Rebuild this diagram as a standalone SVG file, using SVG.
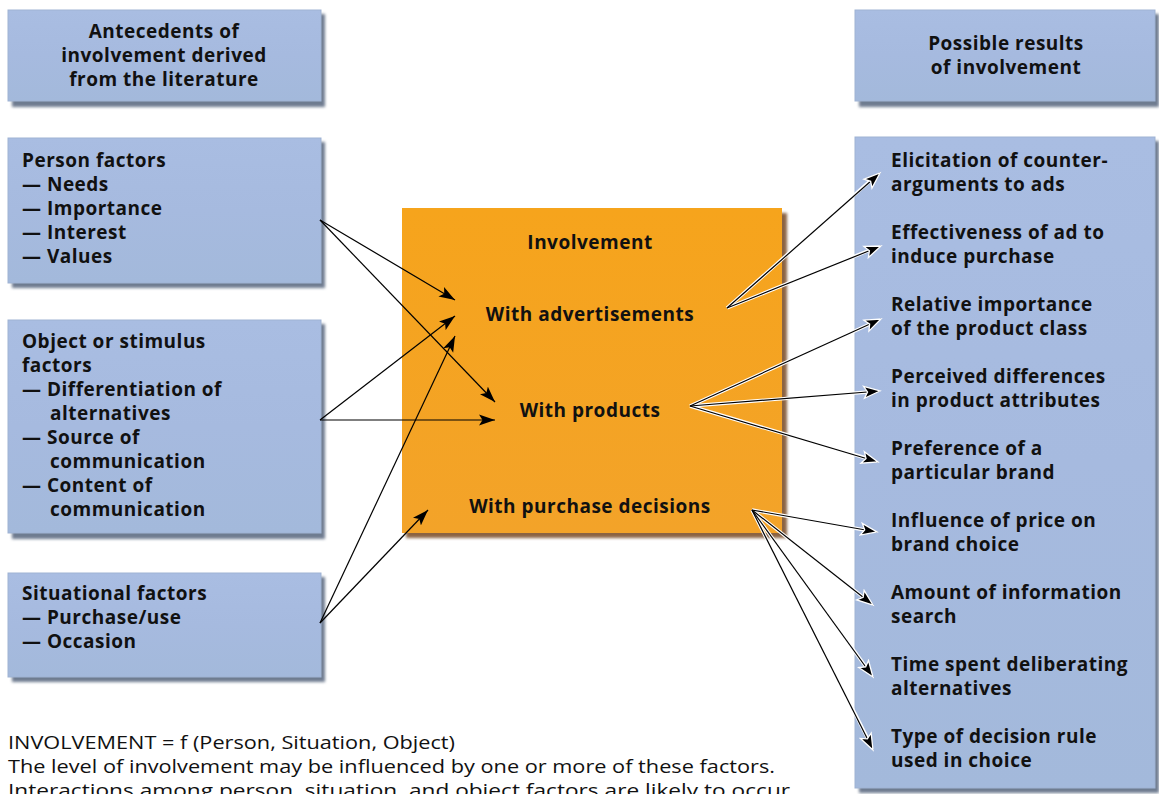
<svg xmlns="http://www.w3.org/2000/svg" width="1159" height="794" viewBox="0 0 1159 794">
<defs>
<linearGradient id="blue" x1="0" y1="0" x2="0" y2="1">
<stop offset="0" stop-color="#a9bde2"/>
<stop offset="0.5" stop-color="#a6badf"/>
<stop offset="1" stop-color="#a3b9db"/>
</linearGradient>
<linearGradient id="orange" x1="0" y1="0" x2="0" y2="1">
<stop offset="0" stop-color="#f6a41c"/>
<stop offset="1" stop-color="#f3a329"/>
</linearGradient>
<filter id="sh" x="-10%" y="-10%" width="120%" height="120%">
<feGaussianBlur stdDeviation="1.6"/>
</filter>
<marker id="ah" viewBox="0 0 16 12" refX="16" refY="6" markerWidth="16" markerHeight="12" markerUnits="userSpaceOnUse" orient="auto">
<path d="M0,0.5 L16,6 L0,11.5 L3.5,6 z" fill="#000"/>
</marker>
<marker id="ahw" viewBox="0 0 20 16" refX="17.5" refY="8" markerWidth="20" markerHeight="16" markerUnits="userSpaceOnUse" orient="auto">
<path d="M1.5,2 L17.5,8 L1.5,14 L5,8 z" fill="#000" stroke="#fff" stroke-width="1.3" stroke-linejoin="miter"/>
</marker>
</defs>
<style>
.box{fill:url(#blue);stroke:#9fb3d3;stroke-width:1}
.shadow{fill:#6e7b90;filter:url(#sh)}
.oshadow{fill:#8b6343;filter:url(#sh)}
.t{font-family:"Open Sans","DejaVu Sans",sans-serif;font-weight:bold;font-size:19px;letter-spacing:0.5px;fill:#111}
.c{text-anchor:middle}
.f{font-family:"Open Sans","DejaVu Sans",sans-serif;font-size:18px;fill:#111}
.ln{stroke:#000;stroke-width:1.2;fill:none}
.halo{stroke:#fff;stroke-width:3.4;fill:none}
</style>
<rect width="1159" height="794" fill="#ffffff"/>

<g id="antecedents-header">
<rect class="shadow" x="12" y="14" width="313" height="93"/>
<rect class="box" x="8" y="10" width="313" height="91"/>
<text class="t c" x="164" y="38">Antecedents of</text>
<text class="t c" x="164" y="62">involvement derived</text>
<text class="t c" x="164" y="86">from the literature</text>
</g>

<g id="person-factors">
<rect class="shadow" x="12" y="142" width="313" height="146"/>
<rect class="box" x="8" y="138" width="313" height="145"/>
<text class="t" x="22" y="167">Person factors</text>
<text class="t" x="22" y="191">— Needs</text>
<text class="t" x="22" y="215">— Importance</text>
<text class="t" x="22" y="239">— Interest</text>
<text class="t" x="22" y="263">— Values</text>
</g>

<g id="object-factors">
<rect class="shadow" x="12" y="324" width="313" height="215"/>
<rect class="box" x="8" y="320" width="313" height="213"/>
<text class="t" x="22" y="348">Object or stimulus</text>
<text class="t" x="22" y="372">factors</text>
<text class="t" x="22" y="396">— Differentiation of</text>
<text class="t" x="50" y="420">alternatives</text>
<text class="t" x="22" y="444">— Source of</text>
<text class="t" x="50" y="468">communication</text>
<text class="t" x="22" y="492">— Content of</text>
<text class="t" x="50" y="516">communication</text>
</g>

<g id="situational-factors">
<rect class="shadow" x="12" y="577" width="313" height="105"/>
<rect class="box" x="8" y="573" width="313" height="104"/>
<text class="t" x="22" y="600">Situational factors</text>
<text class="t" x="22" y="624">— Purchase/use</text>
<text class="t" x="22" y="648">— Occasion</text>
</g>

<g id="involvement">
<rect class="oshadow" x="406" y="213" width="381" height="325"/>
<rect x="402" y="208" width="380" height="325" fill="url(#orange)"/>
<text class="t c" x="590" y="249">Involvement</text>
<text class="t c" x="590" y="321">With advertisements</text>
<text class="t c" x="590" y="417">With products</text>
<text class="t c" x="590" y="513">With purchase decisions</text>
</g>

<g id="results-header">
<rect class="shadow" x="859" y="14" width="300" height="93"/>
<rect class="box" x="855" y="10" width="300" height="91"/>
<text class="t c" x="1006" y="50">Possible results</text>
<text class="t c" x="1006" y="74">of involvement</text>
</g>

<g id="results">
<rect class="shadow" x="859" y="141" width="300" height="652"/>
<rect class="box" x="855" y="137" width="300" height="651"/>
<text class="t" x="891" y="167">Elicitation of counter-</text>
<text class="t" x="891" y="191">arguments to ads</text>
<text class="t" x="891" y="239">Effectiveness of ad to</text>
<text class="t" x="891" y="263">induce purchase</text>
<text class="t" x="891" y="311">Relative importance</text>
<text class="t" x="891" y="335">of the product class</text>
<text class="t" x="891" y="383">Perceived differences</text>
<text class="t" x="891" y="407">in product attributes</text>
<text class="t" x="891" y="455">Preference of a</text>
<text class="t" x="891" y="479">particular brand</text>
<text class="t" x="891" y="527">Influence of price on</text>
<text class="t" x="891" y="551">brand choice</text>
<text class="t" x="891" y="599">Amount of information</text>
<text class="t" x="891" y="623">search</text>
<text class="t" x="891" y="671">Time spent deliberating</text>
<text class="t" x="891" y="695">alternatives</text>
<text class="t" x="891" y="743">Type of decision rule</text>
<text class="t" x="891" y="767">used in choice</text>
</g>

<g id="connectors">
<line class="ln" x1="320" y1="220" x2="455" y2="300" marker-end="url(#ah)"/>
<line class="ln" x1="320" y1="220" x2="495" y2="402" marker-end="url(#ah)"/>
<line class="ln" x1="320" y1="420" x2="455" y2="316" marker-end="url(#ah)"/>
<line class="ln" x1="320" y1="420" x2="495" y2="420" marker-end="url(#ah)"/>
<line class="ln" x1="320" y1="623" x2="455" y2="336" marker-end="url(#ah)"/>
<line class="ln" x1="320" y1="623" x2="428" y2="510" marker-end="url(#ah)"/>

<g>
<line class="halo" x1="727" y1="308" x2="870" y2="181"/>
<line class="halo" x1="727" y1="308" x2="870" y2="250"/>
<line class="halo" x1="690" y1="406" x2="870" y2="324"/>
<line class="halo" x1="690" y1="406" x2="868" y2="392"/>
<line class="halo" x1="690" y1="406" x2="866" y2="458"/>
<line class="halo" x1="752" y1="510" x2="865" y2="530"/>
<line class="halo" x1="752" y1="510" x2="863" y2="597"/>
<line class="halo" x1="752" y1="510" x2="866" y2="667"/>
<line class="halo" x1="752" y1="510" x2="868" y2="739"/>
</g>
<line class="ln" x1="727" y1="308" x2="880" y2="173" marker-end="url(#ahw)"/>
<line class="ln" x1="727" y1="308" x2="881" y2="246" marker-end="url(#ahw)"/>
<line class="ln" x1="690" y1="406" x2="881" y2="319" marker-end="url(#ahw)"/>
<line class="ln" x1="690" y1="406" x2="880" y2="391" marker-end="url(#ahw)"/>
<line class="ln" x1="690" y1="406" x2="878" y2="462" marker-end="url(#ahw)"/>
<line class="ln" x1="752" y1="510" x2="877" y2="532" marker-end="url(#ahw)"/>
<line class="ln" x1="752" y1="510" x2="873" y2="605" marker-end="url(#ahw)"/>
<line class="ln" x1="752" y1="510" x2="873" y2="677" marker-end="url(#ahw)"/>
<line class="ln" x1="752" y1="510" x2="873" y2="750" marker-end="url(#ahw)"/>
</g>

<g id="footnote">
<text class="f" x="8" y="749" textLength="447" lengthAdjust="spacingAndGlyphs">INVOLVEMENT = f (Person, Situation, Object)</text>
<text class="f" x="8" y="773" textLength="767" lengthAdjust="spacingAndGlyphs">The level of involvement may be influenced by one or more of these factors.</text>
<text class="f" x="8" y="797" textLength="788" lengthAdjust="spacingAndGlyphs">Interactions among person, situation, and object factors are likely to occur.</text>
</g>
</svg>
